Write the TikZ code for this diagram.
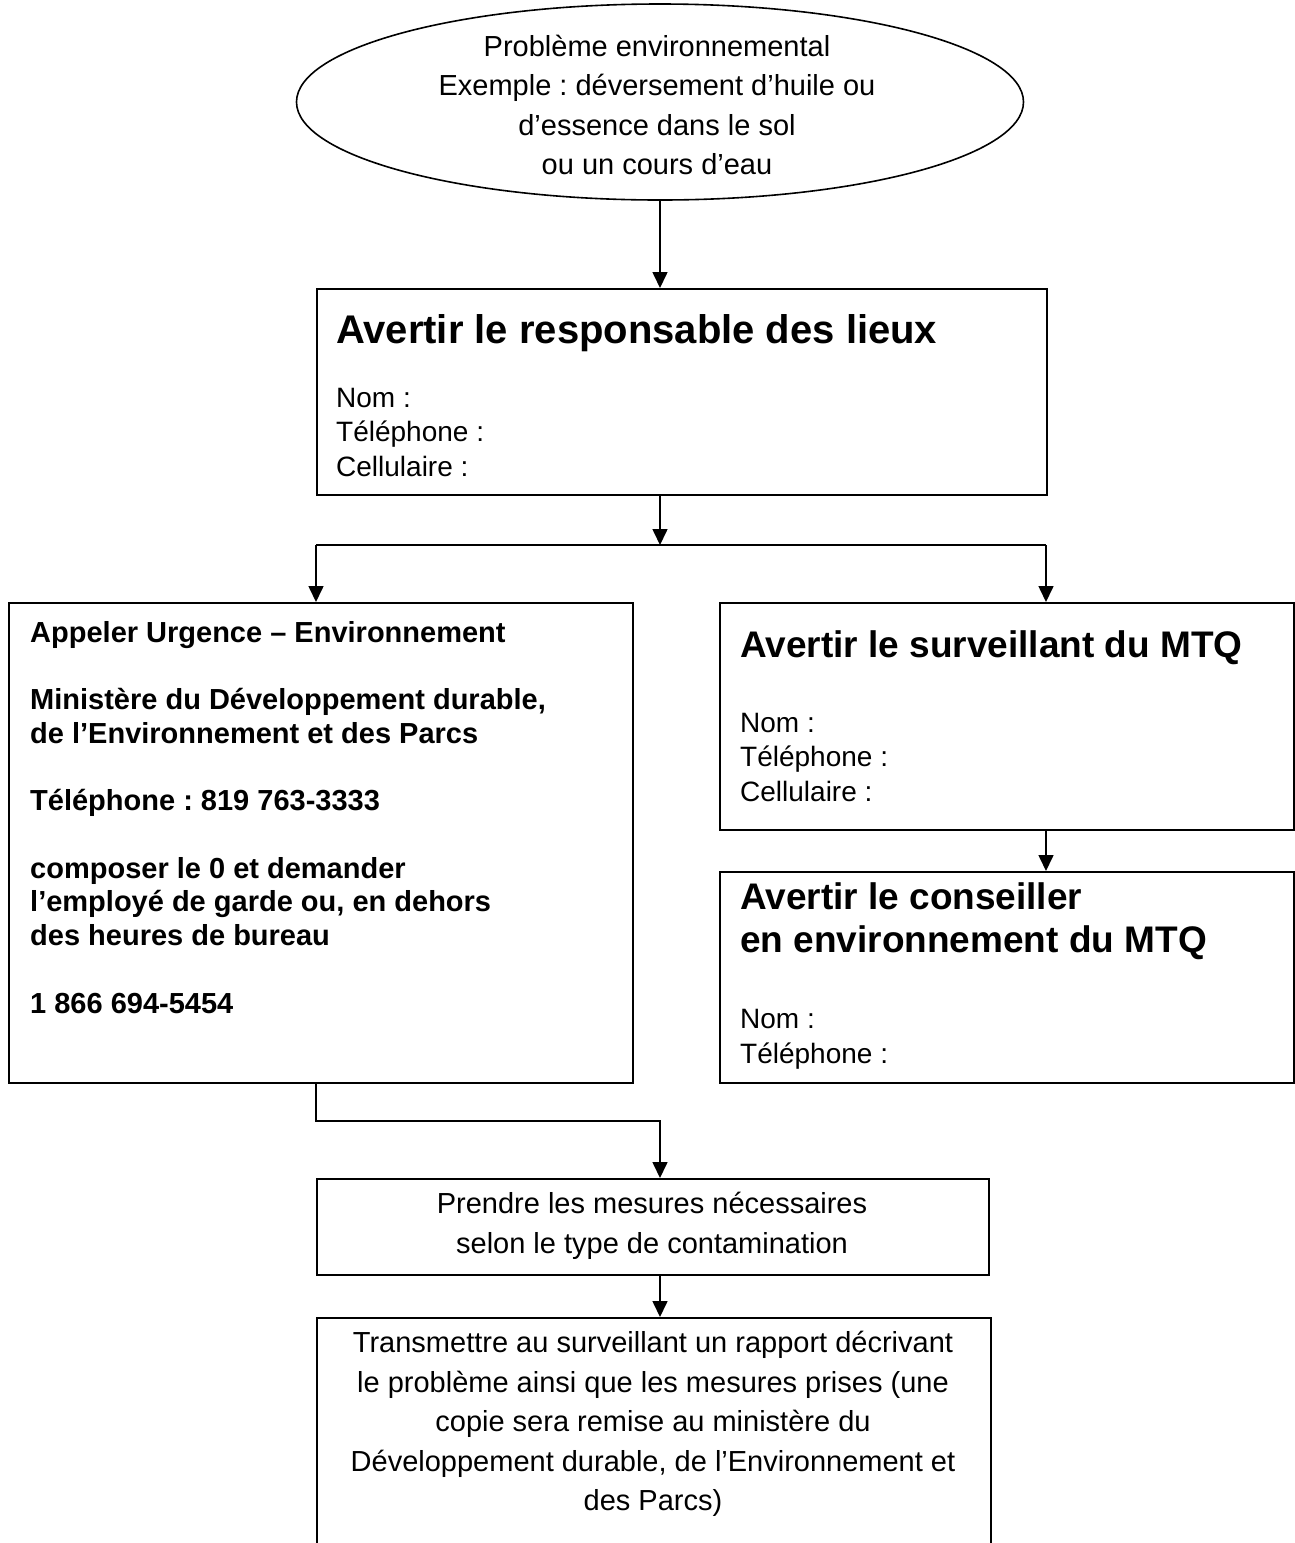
\documentclass[tikz,border=0pt]{standalone}
\usepackage{fontspec}
\setmainfont{Liberation Sans}
\usetikzlibrary{shapes.geometric,arrows.meta}
\frenchspacing
\begin{document}
\begin{tikzpicture}[x=1pt,y=-1pt,
  box/.style={draw, line width=2.4pt, rectangle, anchor=north west, inner sep=0},
  oval/.style={draw, line width=1.6pt, ellipse, inner sep=0},
  link/.style={line width=1.6pt},
  arr/.style={link, -{Triangle[length=16pt,width=15pt]}},
  plain/.style={font=\fontsize{29}{39.5}\selectfont, align=center, inner sep=0},
  field/.style={font=\fontsize{28}{34.5}\selectfont, align=left, anchor=base west, inner sep=0},
  head/.style={font=\fontsize{37}{42.5}\selectfont\bfseries, align=left, anchor=base west, inner sep=0},
  strong/.style={font=\fontsize{29}{33.7}\selectfont\bfseries, align=left, anchor=base west, inner sep=0},
]
\useasboundingbox (0,0) rectangle (1295,1543);
\clip (0,0) rectangle (1295,1543);
\fill[white] (0,0) rectangle (1295,1543);

% starting event
\node[oval, minimum width=727, minimum height=196] (prob) at (660,102) {};
\node[plain] (probtxt) at (657,105) {Problème environnemental\\Exemple : déversement d’huile ou\\d’essence dans le sol\\ou un cours d’eau};

% site manager (multi-line nodes are placed by the baseline of their last line)
\node[box, minimum width=730, minimum height=206] (site) at (316,288) {};
\node[head, font=\fontsize{40}{46}\selectfont\bfseries] (sitehead) at (336,343) {Avertir le responsable des lieux};
\node[field] (sitefields) at (336,476) {Nom :\\Téléphone :\\Cellulaire :};

% emergency line
\node[box, minimum width=624, minimum height=480] (urg) at (8,602) {};
\node[strong] (urgtxt) at (30,1013) {Appeler Urgence – Environnement\\[33.7pt]
Ministère du Développement durable,\\de l’Environnement et des Parcs\\[33.7pt]
Téléphone : 819 763-3333\\[33.7pt]
composer le 0 et demander\\l’employé de garde ou, en dehors\\des heures de bureau\\[33.7pt]
1 866 694-5454};

% MTQ supervisor
\node[box, minimum width=574, minimum height=227] (sup) at (719,602) {};
\node[head] (suphead) at (740,657) {Avertir le surveillant du MTQ};
\node[field] (supfields) at (740,801) {Nom :\\Téléphone :\\Cellulaire :};

% MTQ environmental advisor
\node[box, minimum width=574, minimum height=211] (adv) at (719,871) {};
\node[head] (advhead) at (740,952) {Avertir le conseiller\\en environnement du MTQ};
\node[field] (advfields) at (740,1063) {Nom :\\Téléphone :};

% measures
\node[box, minimum width=672, minimum height=96] (meas) at (316,1178) {};
\node[plain] (meastxt) at (652,1226) {Prendre les mesures nécessaires\\selon le type de contamination};

% report
\node[box, minimum width=674, minimum height=300] (rep) at (316,1317) {};
\node[plain] (reptxt) at (653,1424) {Transmettre au surveillant un rapport décrivant\\le problème ainsi que les mesures prises (une\\copie sera remise au ministère du\\Développement durable, de l’Environnement et\\des Parcs)};

% connectors
\coordinate (split) at (660,545);
\coordinate (jl) at (316,545);
\coordinate (jr) at (1046,545);
\coordinate (bend) at (316,1121);

\draw[arr] (prob.south) -- (prob.south |- site.north);
\draw[arr] (site.south -| split) -- (split);
\draw[link] (jl) -- (jr);
\draw[arr] (jl) -- (jl |- urg.north);
\draw[arr] (jr) -- (jr |- sup.north);
\draw[arr] (sup.south -| jr) -- (adv.north -| jr);
\draw[arr] (urg.south -| bend) -- (bend) -| (meas.north -| split);
\draw[arr] (meas.south -| split) -- (rep.north -| split);
\end{tikzpicture}
\end{document}
